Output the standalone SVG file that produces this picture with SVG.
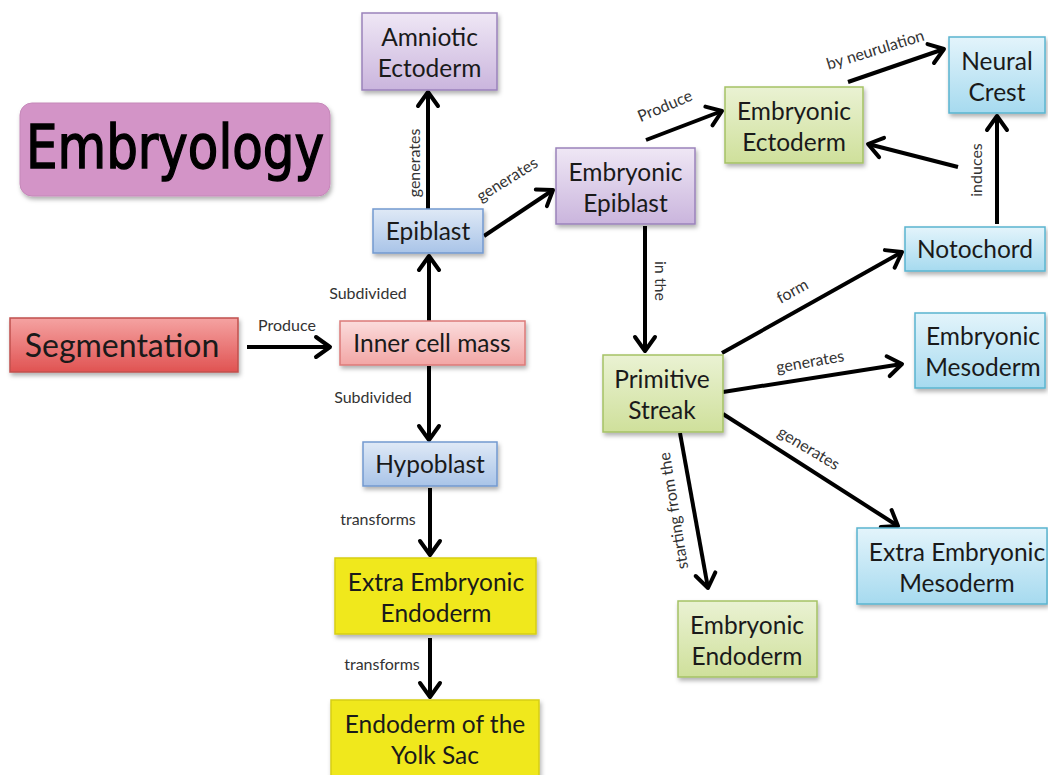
<svg xmlns="http://www.w3.org/2000/svg" width="1048" height="775" viewBox="0 0 1048 775">
<defs>
<style>
.box{stroke-width:1.5}
.nt{font-family:Lato,"Open Sans","Liberation Sans",sans-serif;font-size:24.5px;fill:#1a1a1a;text-anchor:middle}
.lb{font-family:Lato,"Open Sans","Liberation Sans",sans-serif;font-size:16px;fill:#333;text-anchor:middle}
.c{stroke:#000;stroke-width:4;fill:none;marker-end:url(#ah)}
</style>
<filter id="sh" x="-10%" y="-10%" width="130%" height="140%"><feDropShadow dx="1.5" dy="3" stdDeviation="2" flood-color="#000" flood-opacity="0.3"/></filter>
<marker id="ah" markerUnits="userSpaceOnUse" markerWidth="26" markerHeight="26" viewBox="0 0 26 26" refX="22" refY="13" orient="auto"><path d="M8,3 L22,13 L8,23" fill="none" stroke="#000" stroke-width="4" stroke-linecap="round" stroke-linejoin="round"/></marker>
<linearGradient id="gPur" x1="0" y1="0" x2="0" y2="1"><stop offset="0" stop-color="#efe7f5"/><stop offset="1" stop-color="#cab5dd"/></linearGradient>
<linearGradient id="gBlu" x1="0" y1="0" x2="0" y2="1"><stop offset="0" stop-color="#dfe9f6"/><stop offset="1" stop-color="#a9c4e8"/></linearGradient>
<linearGradient id="gGrn" x1="0" y1="0" x2="0" y2="1"><stop offset="0" stop-color="#eaf2d3"/><stop offset="1" stop-color="#cfe09b"/></linearGradient>
<linearGradient id="gCya" x1="0" y1="0" x2="0" y2="1"><stop offset="0" stop-color="#e3f4fb"/><stop offset="1" stop-color="#a6daef"/></linearGradient>
<linearGradient id="gPnk" x1="0" y1="0" x2="0" y2="1"><stop offset="0" stop-color="#fbdcdc"/><stop offset="1" stop-color="#f2a6a5"/></linearGradient>
<linearGradient id="gRed" x1="0" y1="0" x2="0" y2="1"><stop offset="0" stop-color="#f5a3a2"/><stop offset="1" stop-color="#e05352"/></linearGradient>
</defs>
<rect width="1048" height="775" fill="#fff"/>

<g id="connectors">
<line class="c" x1="247" y1="347" x2="330" y2="347"/>
<line class="c" x1="429" y1="322" x2="429" y2="256"/>
<line class="c" x1="429" y1="366" x2="429" y2="440"/>
<line class="c" x1="428" y1="209" x2="428" y2="92"/>
<line class="c" x1="484" y1="236" x2="553" y2="190"/>
<line class="c" x1="646" y1="140" x2="722" y2="111"/>
<line class="c" x1="848" y1="82" x2="944" y2="49"/>
<line class="c" x1="958" y1="167" x2="868" y2="144"/>
<line class="c" x1="997" y1="224" x2="997" y2="116"/>
<line class="c" x1="645" y1="226" x2="645" y2="351"/>
<line class="c" x1="722" y1="353" x2="902" y2="252"/>
<line class="c" x1="723" y1="392" x2="902" y2="364"/>
<line class="c" x1="723" y1="414" x2="898" y2="526"/>
<line class="c" x1="680" y1="433" x2="708" y2="588"/>
<line class="c" x1="430" y1="488" x2="430" y2="555"/>
<line class="c" x1="430" y1="638" x2="430" y2="697"/>
<text class="lb" x="287" y="331">Produce</text>
<text class="lb" x="368" y="299">Subdivided</text>
<text class="lb" x="373" y="403">Subdivided</text>
<text class="lb" transform="translate(420,163) rotate(-90)">generates</text>
<text class="lb" transform="translate(510,184) rotate(-32)">generates</text>
<text class="lb" transform="translate(667,111) rotate(-23)">Produce</text>
<text class="lb" transform="translate(877,55) rotate(-17)">by neurulation</text>
<text class="lb" transform="translate(982,170) rotate(-90)">induces</text>
<text class="lb" transform="translate(655,281) rotate(90)">in the</text>
<text class="lb" transform="translate(795,296) rotate(-29)">form</text>
<text class="lb" transform="translate(811,367) rotate(-10)">generates</text>
<text class="lb" transform="translate(806,453) rotate(31)">generates</text>
<text class="lb" transform="translate(679,510) rotate(-99)">starting from the</text>
<text class="lb" x="378" y="525">transforms</text>
<text class="lb" x="382" y="670">transforms</text>
</g>

<g id="embryology">
<rect x="20" y="103" width="310" height="93" rx="12" fill="#d394c7" stroke="#c588b9" filter="url(#sh)"/>
<text x="175" y="168" font-family="'DejaVu Sans',sans-serif" font-size="60" fill="#000" stroke="#000" stroke-width="1.5" text-anchor="middle" textLength="298" lengthAdjust="spacingAndGlyphs">Embryology</text>
</g>
<g id="amniotic-ectoderm">
<rect class="box" x="362" y="13" width="135" height="77" fill="url(#gPur)" stroke="#9a82bb" filter="url(#sh)"/>
<text class="nt" x="429.5" y="46">Amniotic</text><text class="nt" x="429.5" y="77">Ectoderm</text>
</g>
<g id="epiblast">
<rect class="box" x="373" y="209" width="110" height="44" fill="url(#gBlu)" stroke="#7399cf" filter="url(#sh)"/>
<text class="nt" x="428" y="240">Epiblast</text>
</g>
<g id="embryonic-epiblast">
<rect class="box" x="556" y="148" width="139" height="76" fill="url(#gPur)" stroke="#9a82bb" filter="url(#sh)"/>
<text class="nt" x="625.5" y="181">Embryonic</text><text class="nt" x="625.5" y="212">Epiblast</text>
</g>
<g id="embryonic-ectoderm">
<rect class="box" x="725" y="87" width="138" height="76" fill="url(#gGrn)" stroke="#a5c265" filter="url(#sh)"/>
<text class="nt" x="794" y="120">Embryonic</text><text class="nt" x="794" y="151">Ectoderm</text>
</g>
<g id="neural-crest">
<rect class="box" x="949" y="37" width="96" height="76" fill="url(#gCya)" stroke="#5ab4cf" filter="url(#sh)"/>
<text class="nt" x="997" y="70">Neural</text><text class="nt" x="997" y="101">Crest</text>
</g>
<g id="notochord">
<rect class="box" x="905" y="227" width="140" height="44" fill="url(#gCya)" stroke="#5ab4cf" filter="url(#sh)"/>
<text class="nt" x="975" y="258">Notochord</text>
</g>
<g id="embryonic-mesoderm">
<rect class="box" x="915" y="313" width="130" height="75" fill="url(#gCya)" stroke="#5ab4cf" filter="url(#sh)"/>
<text class="nt" x="983" y="345">Embryonic</text><text class="nt" x="983" y="376">Mesoderm</text>
</g>
<g id="segmentation">
<rect class="box" x="10" y="318" width="228" height="54" fill="url(#gRed)" stroke="#c0504d" filter="url(#sh)"/>
<text class="nt" x="122" y="357" style="font-size:32px">Segmentation</text>
</g>
<g id="inner-cell-mass">
<rect class="box" x="340" y="321" width="185" height="44" fill="url(#gPnk)" stroke="#dc7a78" filter="url(#sh)"/>
<text class="nt" x="432" y="352">Inner cell mass</text>
</g>
<g id="hypoblast">
<rect class="box" x="363" y="442" width="134" height="44" fill="url(#gBlu)" stroke="#7399cf" filter="url(#sh)"/>
<text class="nt" x="430" y="473">Hypoblast</text>
</g>
<g id="primitive-streak">
<rect class="box" x="603" y="355" width="120" height="77" fill="url(#gGrn)" stroke="#a5c265" filter="url(#sh)"/>
<text class="nt" x="662" y="388">Primitive</text><text class="nt" x="662" y="419">Streak</text>
</g>
<g id="extra-embryonic-endoderm">
<rect class="box" x="335" y="558" width="201" height="76" fill="#f0e81c" stroke="#d6ce14" filter="url(#sh)"/>
<text class="nt" x="436" y="591">Extra Embryonic</text><text class="nt" x="436" y="622">Endoderm</text>
</g>
<g id="endoderm-yolk-sac">
<rect class="box" x="331" y="700" width="208" height="80" fill="#f0e81c" stroke="#d6ce14" filter="url(#sh)"/>
<text class="nt" x="435" y="733">Endoderm of the</text><text class="nt" x="435" y="764">Yolk Sac</text>
</g>
<g id="embryonic-endoderm">
<rect class="box" x="678" y="601" width="139" height="76" fill="url(#gGrn)" stroke="#a5c265" filter="url(#sh)"/>
<text class="nt" x="747" y="634">Embryonic</text><text class="nt" x="747" y="665">Endoderm</text>
</g>
<g id="extra-embryonic-mesoderm">
<rect class="box" x="857" y="528" width="190" height="76" fill="url(#gCya)" stroke="#5ab4cf" filter="url(#sh)"/>
<text class="nt" x="957" y="561">Extra Embryonic</text><text class="nt" x="957" y="592">Mesoderm</text>
</g>
</svg>
